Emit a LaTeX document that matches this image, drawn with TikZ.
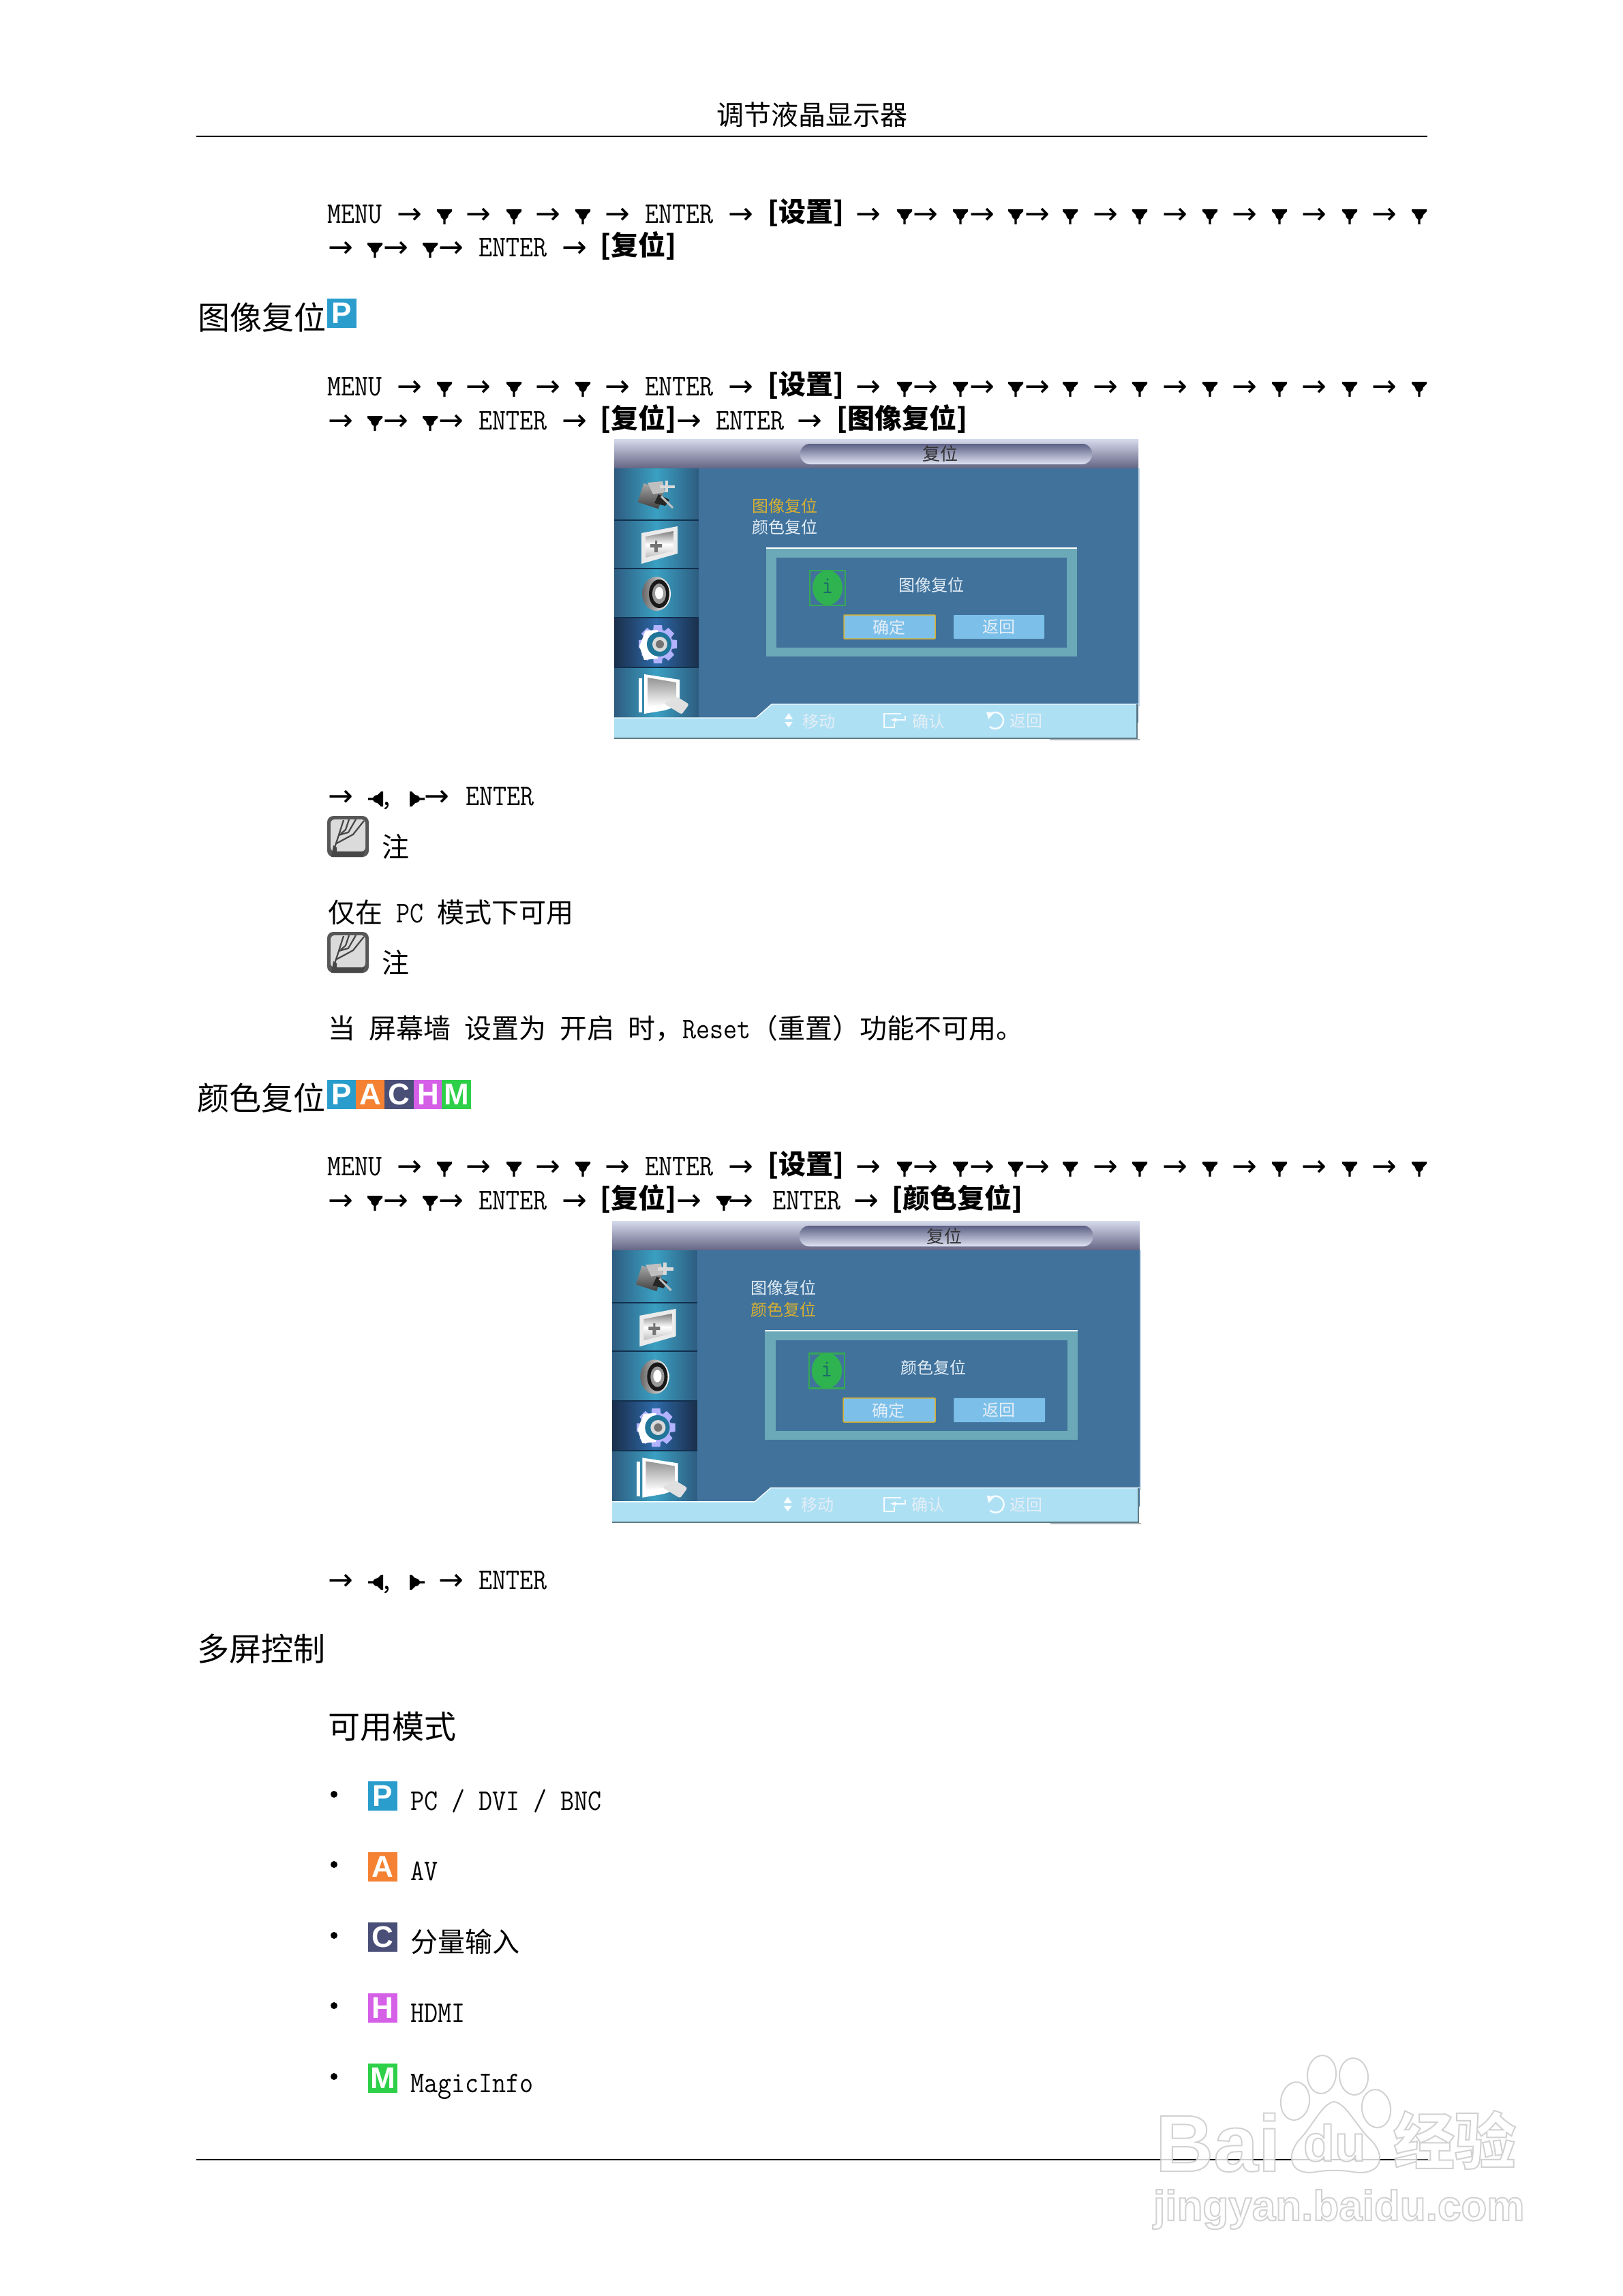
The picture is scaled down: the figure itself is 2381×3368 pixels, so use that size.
\documentclass[tikz,border=0pt]{standalone}
\usepackage{fontspec}
\newfontfamily\cjk{Noto Sans CJK SC}
\newfontfamily\lat[FakeStretch=0.885]{Latin Modern Mono}
\newfontfamily\arw{DejaVu Sans}
\newfontfamily\sans{Liberation Sans}
\newcommand\Sz[1]{\fontsize{#1}{#1}\selectfont}
\newcommand\Cn[1]{{\cjk\Sz{40}#1}}
\newcommand\Lt[1]{{\lat\Sz{44}#1}}
\newcommand\Tag[1]{{\cjk\bfseries\Sz{40}#1}}
\newcommand\Hd[1]{{\cjk\Sz{47}#1}}
\newcommand\Outl[1]{\special{pdf:code q 2 Tr 2 w 0.78 G 1 g}#1\special{pdf:code Q}}
\definecolor{colP}{HTML}{2A9DCC}
\definecolor{colA}{HTML}{F58233}
\definecolor{colC}{HTML}{4A4F78}
\definecolor{colH}{HTML}{D65FE8}
\definecolor{colM}{HTML}{2DD048}
\definecolor{panel}{HTML}{40729C}
\definecolor{teal}{HTML}{6BA9B8}
\definecolor{footer}{HTML}{AEE0F4}
\definecolor{btn}{HTML}{7CC0EA}
\definecolor{gold}{HTML}{D8B030}
\definecolor{pale}{HTML}{E4EEF6}
\definecolor{barA}{HTML}{2E5C80}
\definecolor{barB}{HTML}{3AA0C2}
\definecolor{selA}{HTML}{1A2E4A}
\definecolor{selB}{HTML}{2D6AA8}
\definecolor{sep}{HTML}{12304E}
\definecolor{infoG}{HTML}{2FB350}
\definecolor{infoL}{HTML}{35A855}
\definecolor{infoI}{HTML}{1B6A68}
\tikzset{
  txt/.style={inner sep=0pt,outer sep=0pt,anchor=base west},
  mid/.style={inner sep=0pt,outer sep=0pt,anchor=base},
  arrowtok/.style={inner sep=0pt,outer sep=0pt,anchor=base,font=\arw\Sz{44}},
  badge/.style={fill=#1,text=white,minimum width=43pt,minimum height=43pt,inner sep=0pt,outer sep=0pt,anchor=north west,font=\sans\bfseries\Sz{44}},
  osdtxt/.style={inner sep=0pt,outer sep=0pt,font=\cjk\Sz{24}},
}
\newcommand\Arrows[2]{\foreach \ax in {#2}{\node[arrowtok] (arr-#1-\ax) at (\ax,#1+1) {→};}}
\newcommand\Downs[2]{\foreach \tx in {#2}{\fill[shift={(\tx,#1)}] (-11,-20)--(11,-20)--(11,-17)--(6,-12)--(5,-8)--(1.6,-5)--(1.6,2)--(-1.6,2)--(-1.6,-5)--(-5,-8)--(-6,-12)--(-11,-17)--cycle;}}
\newcommand\LeftTri[1]{\fill[shift={(562,#1)}] (0,-11)--(0,11)--(-3,11)--(-8,6)--(-12,5)--(-15,1.6)--(-22,1.6)--(-22,-1.6)--(-15,-1.6)--(-12,-5)--(-8,-6)--(-3,-11)--cycle;}
\newcommand\RightTri[1]{\fill[shift={(601,#1)}] (0,-11)--(0,11)--(3,11)--(8,6)--(12,5)--(15,1.6)--(22,1.6)--(22,-1.6)--(15,-1.6)--(12,-5)--(8,-6)--(3,-11)--cycle;}
% first line of a menu path, baseline #1
\newcommand\RowOne[1]{%
  \node[txt] (menu-#1) at (480,#1) {\Lt{MENU}};
  \Arrows{#1}{601,702,804,906,1087,1274,1358,1441,1522,1622,1724,1826,1928,2031}
  \Downs{#1}{652,754,855,1327,1409,1490,1570,1672,1775,1877,1980,2082}
  \node[txt] (enter-#1) at (946,#1) {\Lt{ENTER}};
  \node[txt] (set-#1) at (1126,#1-2) {\Tag{[设置]}};
}
\newcommand\RowTwo[1]{%
  \Arrows{#1}{500,581,662,843}
  \Downs{#1}{550,631}
  \node[txt] (enter-#1) at (702,#1) {\Lt{ENTER}};
  \node[txt] (reset-#1) at (880,#1-2) {\Tag{[复位]}};
}
\newcommand\NoteIcon[2]{%
  \begin{scope}[shift={(#1,#2)}]
    \fill[rounded corners=9pt,fill=black!66] (0,0) rectangle (61,60);
    \fill[rounded corners=6pt,fill=black!14] (5,5) rectangle (56,52);
    \fill[black!72] (6,60)--(9,43)--(14,46)--(14,52)--(55,52)--(52,60)--cycle;
    \draw[black!72,line width=2.2pt,line join=round]
      (9,52)--(17,28)--(24,6) (14,40)--(38,27)--(54,7)
      (17,28)--(31,24)--(42,5) (20,26)--(27,20)--(32,5);
  \end{scope}
}
% the on-screen menu, drawn in the coordinates of the first one
\newcommand\OSD[3]{%
  % header
  \shade[top color={rgb,255:red,214;green,218;blue,236},middle color={rgb,255:red,178;green,182;blue,204},bottom color={rgb,255:red,100;green,100;blue,132}] (901,644) rectangle (1670,687);
  \shade[rounded corners=14pt,top color={rgb,255:red,92;green,96;blue,132},bottom color={rgb,255:red,222;green,226;blue,242}] (1174,651) rectangle (1602,681);
  \node[osdtxt,text=black!80,font=\cjk\Sz{26}] (title-#1) at (\TitleX,666) {复位};
  % panel
  \fill[panel] (901,687) rectangle (1670,1060);
  \fill[pale!80!panel] (1670,687) rectangle (1672,1036);
  % sidebar
  \shade[left color=barA,right color=barA,middle color=barB] (901,687) rectangle (1025,763);
  \shade[left color=barA,right color=barA,middle color=barB] (901,763) rectangle (1025,834);
  \shade[left color=barA,right color=barA,middle color=barB] (901,834) rectangle (1025,906);
  \shade[left color=selA,right color=selA,middle color=selB] (901,906) rectangle (1025,979);
  \shade[left color=barA,right color=barA,middle color=barB] (901,979) rectangle (1025,1056);
  \foreach \sy in {763,834,906,979}{\draw[sep,line width=2pt] (901,\sy)--(1025,\sy);}
  % icon 1: connector
  \shade[top color=black!35,bottom color=black!75,rotate around={-18:(955,725)}] (940,713) rectangle (972,742);
  \fill[black!25] (950,708)--(972,706)--(976,722)--(958,725)--cycle;
  \fill[white!85!black] (976,705) rectangle (980,722);
  \fill[white!85!black] (968,712) rectangle (990,716);
  \fill[black!85] (966,725)--(982,733)--(976,742)--(960,738)--cycle;
  \draw[white!75!black,line width=3pt] (970,728)--(987,745);
  % icon 2: picture
  \fill[white!92!black] (941,782)--(994,772)--(994,812)--(941,827)--cycle;
  \shade[top color=black!50,bottom color=black!25,middle color=white] (947,787)--(988,779)--(988,808)--(947,818)--cycle;
  \fill[black!55] (961,793) rectangle (964,798) (954,798) rectangle (971,803) (960,803) rectangle (965,810);
  % icon 3: speaker
  \shade[left color=black!60,right color=white] (963,871) ellipse (21 and 25);
  \fill[black!90] (967,871) ellipse (15 and 21);
  \fill[black!40] (967,871) ellipse (10 and 15);
  \fill[white] (967,870) ellipse (6 and 9);
  % icon 4: gear
  \foreach \ga in {0,45,...,315}{\fill[white!70!blue,rotate around={\ga:(965,945)}] (959,917) -- (971,917) -- (973,935) -- (957,935) -- cycle;}
  \fill[white!70!blue] (965,945) circle (22);
  \fill[white] (947,925) -- (965,924) -- (965,966) -- (945,968) -- (938,948) -- cycle;
  \fill[colP!75!black] (967,945) circle (18);
  \fill[black!15] (968,945) circle (11);
  \fill[black!55] (968,945) circle (6);
  % icon 5: pages
  \fill[white] (937,995) rectangle (942,1045);
  \fill[white] (945,989)--(997,997)--(997,1035)--(975,1042)--(945,1047)--cycle;
  \shade[top color=black!42,bottom color=white] (950,994)--(992,1001)--(992,1030)--(950,1037)--cycle;
  \fill[black!12,rounded corners=3pt] (974,1032)--(993,1022)--(1011,1033)--(1000,1048)--cycle;
  % menu entries
  \node[osdtxt,text=#2,anchor=west] (ma-#1) at (1103,742) {图像复位};
  \node[osdtxt,text=#3,anchor=west] (mb-#1) at (1103,773) {颜色复位};
  % dialog
  \fill[teal] (1124,803) rectangle (1580,963);
  \fill[white] (1124,803) rectangle (1580,805);
  \fill[panel] (1139,818) rectangle (1565,950);
  \draw[infoL,line width=2.5pt] (1188,837) rectangle (1240,888);
  \fill[infoG] (1214,862) ellipse (22 and 25.5);
  \node[inner sep=0pt,text=infoI,font=\lat\Sz{36}] (info-#1) at (1214,860) {i};
  \node[osdtxt,text=pale,anchor=west] (dlg-#1) at (\DlgX,858) {\DlgText};
  \fill[btn,draw=gold,line width=1.5pt,rounded corners=1pt] (1238,902) rectangle (1372,937);
  \node[osdtxt,text=pale] (ok-#1) at (1304,920) {确定};
  \fill[btn,rounded corners=1pt] (1399,902) rectangle (1532,937);
  \node[osdtxt,text=pale] (back-#1) at (1465,920) {返回};
  % footer
  \fill[footer] (901,1053)--(1109,1053)--(1132,1033)--(1667,1033)--(1667,1082)--(901,1082)--cycle;
  \draw[white!90!footer,line width=1.4pt] (901,1053)--(1109,1053)--(1132,1033)--(1670,1033);
  \draw[black!45!footer,line width=2pt] (901,1083)--(1668,1083)--(1668,1033);
  \fill[pale!70!black!85!white] (1540,1084) rectangle (1672,1086);
  \fill[white!90!footer] (1157,1046)--(1163,1055)--(1151,1055)--cycle (1157,1067)--(1163,1059)--(1151,1059)--cycle;
  \node[osdtxt,text=pale,anchor=west] (mv-#1) at (1177,1058) {移动};
  \draw[white!90!footer,line width=2pt] (1322,1047)--(1297,1047)--(1297,1067)--(1312,1067)--(1312,1060);
  \draw[white!90!footer,line width=2pt,-latex] (1328,1050)--(1328,1056)--(1306,1056);
  \node[osdtxt,text=pale,anchor=west] (cf-#1) at (1338,1058) {确认};
  \draw[white!90!footer,line width=2.5pt] (1451,1049) arc[start angle=221,end angle=492,x radius=12,y radius=12];
  \fill[white!90!footer] (1447,1044)--(1458,1046)--(1450,1055)--cycle;
  \node[osdtxt,text=pale,anchor=west] (rt-#1) at (1481,1058) {返回};
}
\begin{document}
\begin{tikzpicture}[x=1pt,y=-1pt]
\useasboundingbox[fill=white] (0,0) rectangle (2381,3368);
% running head
\node[mid] (head) at (1191,183) {\Cn{调节液晶显示器}};
\coordinate (hl) at (288,200); \coordinate (hr) at (2094,200);
\draw[line width=2.2pt] (hl)--(hr);
% block 1
\RowOne{327}
\RowTwo{376}
% image reset heading
\node[txt] (h1) at (290,483) {\Hd{图像复位}};
\node[badge=colP] (b1P) at (480,438) {P};
% block 2
\RowOne{580}
\RowTwo{630}
\Arrows{630}{1011,1188}
\node[txt] (enter-2b) at (1050,630) {\Lt{ENTER}};
\node[txt] (tag-2b) at (1227,628) {\Tag{[图像复位]}};
% screen 1
\def\DlgText{图像复位}\def\TitleX{1379}\def\DlgX{1318}
\OSD{one}{gold}{pale}
% nav line
\Arrows{1181}{500,641}
\LeftTri{1172}
\RightTri{1172}
\node[txt] (comma1) at (557,1181) {\Lt{,}};
\node[txt] (enter-n1) at (683,1181) {\Lt{ENTER}};
\NoteIcon{480}{1197}
\node[txt] (note1) at (560,1257) {\Cn{注}};
\node[txt] (only) at (481,1353) {\Cn{仅在}\Lt{\ PC\ }\Cn{模式下可用}};
\NoteIcon{480}{1367}
\node[txt] (note2) at (560,1427) {\Cn{注}};
\node[txt] (wall) at (481,1523) {\Cn{当}\Lt{\ }\Cn{屏幕墙}\Lt{\ }\Cn{设置为}\Lt{\ }\Cn{开启}\Lt{\ }\Cn{时，}\Lt{Reset}\Cn{（重置）功能不可用。}};
% colour reset heading
\node[txt] (h2) at (289,1628) {\Hd{颜色复位}};
\node[badge=colP,minimum width=42pt] (b2P) at (480,1584) {P};
\node[badge=colA,minimum width=42pt] (b2A) at (522,1584) {A};
\node[badge=colC,minimum width=43pt] (b2C) at (564,1584) {C};
\node[badge=colH,minimum width=42pt] (b2H) at (607,1584) {H};
\node[badge=colM,minimum width=43pt] (b2M) at (648,1584) {M};
% block 3
\RowOne{1724}
\RowTwo{1774}
\Arrows{1774}{1011,1087,1271}
\Downs{1774}{1062}
\node[txt] (enter-3b) at (1133,1774) {\Lt{ENTER}};
\node[txt] (tag-3b) at (1308,1772) {\Tag{[颜色复位]}};
% screen 2
\begin{scope}[shift={(898,1791)},xscale=1.0065,yscale=1.0068,shift={(-901,-644)}]
\def\DlgText{颜色复位}\def\TitleX{1385}\def\DlgX{1322}
\OSD{two}{pale}{gold}
\end{scope}
% nav line 2
\Arrows{2331}{500,662}
\LeftTri{2321}
\RightTri{2321}
\node[txt] (comma2) at (557,2331) {\Lt{,}};
\node[txt] (enter-n2) at (702,2331) {\Lt{ENTER}};
% multi screen
\node[txt] (h3) at (289,2436) {\Hd{多屏控制}};
\node[txt] (h4) at (481,2550) {\Hd{可用模式}};
\foreach \by in {2632,2735,2839,2942,3046}{\fill (490,\by) circle (5);}
\node[badge=colP] (mP) at (540,2613) {P};
\node[badge=colA] (mA) at (540,2717) {A};
\node[badge=colC] (mC) at (540,2820) {C};
\node[badge=colH] (mH) at (540,2924) {H};
\node[badge=colM] (mM) at (540,3027) {M};
\node[txt] (tP) at (602,2655) {\Lt{PC / DVI / BNC}};
\node[txt] (tA) at (602,2758) {\Lt{AV}};
\node[txt] (tC) at (602,2863) {\Cn{分量输入}};
\node[txt] (tH) at (602,2966) {\Lt{HDMI}};
\node[txt] (tM) at (602,3069) {\Lt{MagicInfo}};
% footer rule
\coordinate (fl) at (288,3168); \coordinate (fr) at (2095,3168);
\draw[line width=2.2pt] (fl)--(fr);
% watermark
\begin{scope}[opacity=.8]
  \filldraw[fill=white,draw=black!22,line width=2pt,rotate around={-5:(1939,3043)}] (1939,3043) ellipse (21 and 28);
  \filldraw[fill=white,draw=black!22,line width=2pt,rotate around={5:(1986,3046)}] (1986,3046) ellipse (21 and 27);
  \filldraw[fill=white,draw=black!22,line width=2pt,rotate around={-8:(1900,3082)}] (1900,3082) ellipse (21 and 28);
  \filldraw[fill=white,draw=black!22,line width=2pt,rotate around={8:(2019,3093)}] (2019,3093) ellipse (21 and 28);
  \filldraw[fill=white,draw=black!22,line width=2pt] (1957,3083) .. controls (1940,3085) and (1925,3120) .. (1905,3140) .. controls (1885,3165) and (1895,3192) .. (1930,3186) .. controls (1945,3183) and (1970,3183) .. (1985,3186) .. controls (2025,3192) and (2035,3165) .. (2012,3140) .. controls (1990,3120) and (1975,3085) .. (1957,3083) -- cycle;
  \node[txt] (wmBai) at (1695,3185) {\sans\bfseries\Sz{118}\Outl{Bai}};
  \node[txt] (wmdu) at (1912,3170) {\sans\bfseries\Sz{75}\Outl{du}};
  \node[txt] (wmjy) at (2044,3174) {\cjk\bfseries\Sz{90}\Outl{经验}};
  \node[txt] (wmurl) at (1692,3257) {\sans\bfseries\Sz{62}\Outl{jingyan.baidu.com}};
\end{scope}
\end{tikzpicture}
\end{document}
